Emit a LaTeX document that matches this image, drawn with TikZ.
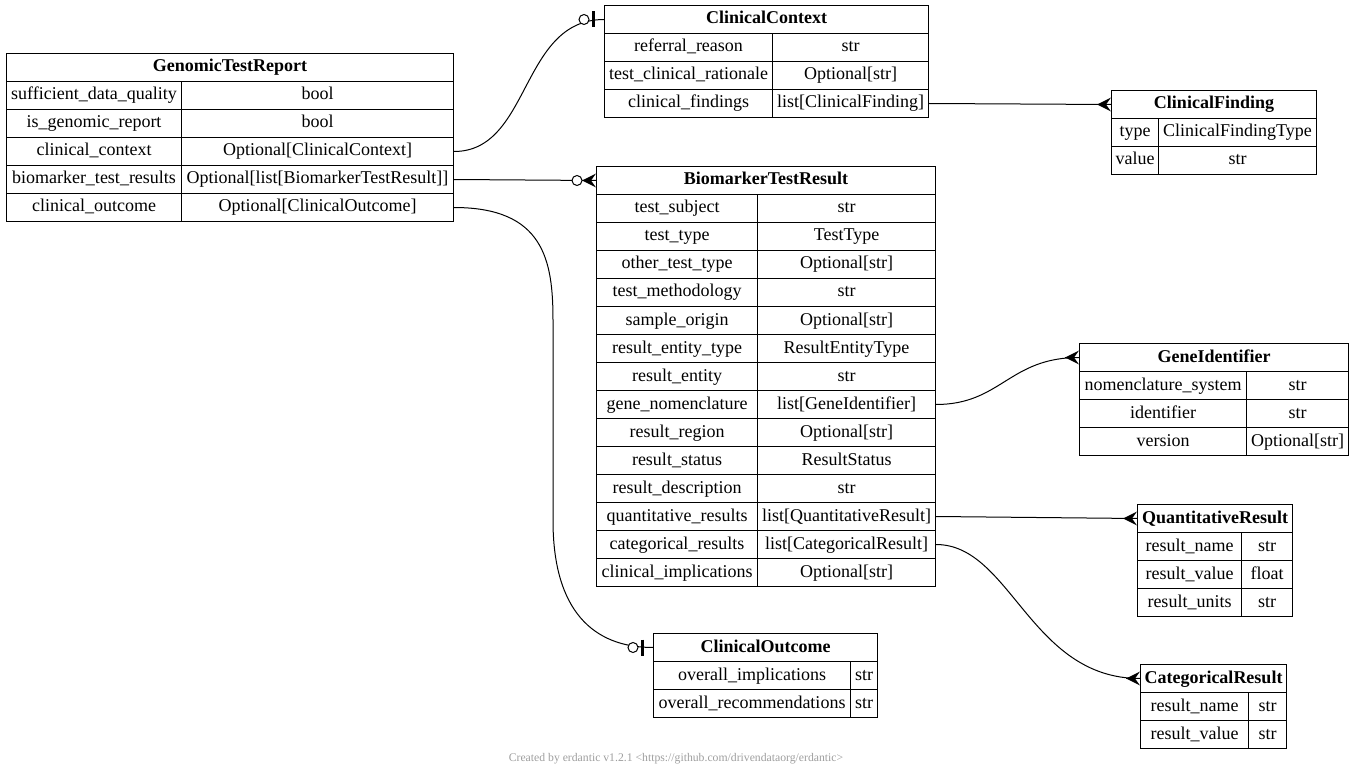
\documentclass[tikz,border=0pt]{standalone}
\usepackage{fontspec}
\setmainfont{Liberation Serif}
\begin{document}
\begin{tikzpicture}[x=1pt, y=-1pt, line width=1pt,
    cell/.style={draw, anchor=north west, inner sep=0pt, minimum height=28,
      text height=13pt, text depth=4pt, font=\fontsize{18}{21}\selectfont},
    head/.style={cell, font=\fontsize{18}{21}\selectfont\bfseries},
    footer/.style={text=black!38, font=\fontsize{11.7}{14}\selectfont},
    crow/.pic={
      \fill (-14,0) -- (0,-7) -- (-5,0) -- (0,7) -- cycle;
      \draw (-14,0) -- (0,0);},
    crowodot/.pic={
      \pic {crow};
      \draw[fill=white] (-19,0) circle[radius=5];},
    teeodot/.pic={
      \draw[line width=3pt] (-11,-8) -- (-11,8);
      \draw[fill=white] (-20,0) circle[radius=5];}]
  \useasboundingbox (0,0) rectangle (1353,778);
  % GenomicTestReport
  \node[head, minimum width=447] (gtr-h) at (6,53) {GenomicTestReport};
  \node[cell, minimum width=175] (gtr-n1) at (6,81) {sufficient\_data\_quality};
  \node[cell, minimum width=272] (gtr-t1) at (181,81) {bool};
  \node[cell, minimum width=175] (gtr-n2) at (6,109) {is\_genomic\_report};
  \node[cell, minimum width=272] (gtr-t2) at (181,109) {bool};
  \node[cell, minimum width=175] (gtr-n3) at (6,137) {clinical\_context};
  \node[cell, minimum width=272] (gtr-t3) at (181,137) {Optional[ClinicalContext]};
  \node[cell, minimum width=175] (gtr-n4) at (6,165) {biomarker\_test\_results};
  \node[cell, minimum width=272] (gtr-t4) at (181,165) {Optional[list[BiomarkerTestResult]]};
  \node[cell, minimum width=175] (gtr-n5) at (6,193) {clinical\_outcome};
  \node[cell, minimum width=272] (gtr-t5) at (181,193) {Optional[ClinicalOutcome]};
  % ClinicalContext
  \node[head, minimum width=324] (cc-h) at (604,5) {ClinicalContext};
  \node[cell, minimum width=168] (cc-n1) at (604,33) {referral\_reason};
  \node[cell, minimum width=156] (cc-t1) at (772,33) {str};
  \node[cell, minimum width=168] (cc-n2) at (604,61) {test\_clinical\_rationale};
  \node[cell, minimum width=156] (cc-t2) at (772,61) {Optional[str]};
  \node[cell, minimum width=168] (cc-n3) at (604,89) {clinical\_findings};
  \node[cell, minimum width=156] (cc-t3) at (772,89) {list[ClinicalFinding]};
  % ClinicalFinding
  \node[head, minimum width=205] (cf-h) at (1111,90) {ClinicalFinding};
  \node[cell, minimum width=47] (cf-n1) at (1111,118) {type};
  \node[cell, minimum width=158] (cf-t1) at (1158,118) {ClinicalFindingType};
  \node[cell, minimum width=47] (cf-n2) at (1111,146) {value};
  \node[cell, minimum width=158] (cf-t2) at (1158,146) {str};
  % BiomarkerTestResult
  \node[head, minimum width=339] (btr-h) at (596,166) {BiomarkerTestResult};
  \node[cell, minimum width=161] (btr-n1) at (596,194) {test\_subject};
  \node[cell, minimum width=178] (btr-t1) at (757,194) {str};
  \node[cell, minimum width=161] (btr-n2) at (596,222) {test\_type};
  \node[cell, minimum width=178] (btr-t2) at (757,222) {TestType};
  \node[cell, minimum width=161] (btr-n3) at (596,250) {other\_test\_type};
  \node[cell, minimum width=178] (btr-t3) at (757,250) {Optional[str]};
  \node[cell, minimum width=161] (btr-n4) at (596,278) {test\_methodology};
  \node[cell, minimum width=178] (btr-t4) at (757,278) {str};
  \node[cell, minimum width=161] (btr-n5) at (596,306) {sample\_origin};
  \node[cell, minimum width=178] (btr-t5) at (757,306) {Optional[str]};
  \node[cell, minimum width=161] (btr-n6) at (596,334) {result\_entity\_type};
  \node[cell, minimum width=178] (btr-t6) at (757,334) {ResultEntityType};
  \node[cell, minimum width=161] (btr-n7) at (596,362) {result\_entity};
  \node[cell, minimum width=178] (btr-t7) at (757,362) {str};
  \node[cell, minimum width=161] (btr-n8) at (596,390) {gene\_nomenclature};
  \node[cell, minimum width=178] (btr-t8) at (757,390) {list[GeneIdentifier]};
  \node[cell, minimum width=161] (btr-n9) at (596,418) {result\_region};
  \node[cell, minimum width=178] (btr-t9) at (757,418) {Optional[str]};
  \node[cell, minimum width=161] (btr-n10) at (596,446) {result\_status};
  \node[cell, minimum width=178] (btr-t10) at (757,446) {ResultStatus};
  \node[cell, minimum width=161] (btr-n11) at (596,474) {result\_description};
  \node[cell, minimum width=178] (btr-t11) at (757,474) {str};
  \node[cell, minimum width=161] (btr-n12) at (596,502) {quantitative\_results};
  \node[cell, minimum width=178] (btr-t12) at (757,502) {list[QuantitativeResult]};
  \node[cell, minimum width=161] (btr-n13) at (596,530) {categorical\_results};
  \node[cell, minimum width=178] (btr-t13) at (757,530) {list[CategoricalResult]};
  \node[cell, minimum width=161] (btr-n14) at (596,558) {clinical\_implications};
  \node[cell, minimum width=178] (btr-t14) at (757,558) {Optional[str]};
  % GeneIdentifier
  \node[head, minimum width=269] (gi-h) at (1079,343) {GeneIdentifier};
  \node[cell, minimum width=167] (gi-n1) at (1079,371) {nomenclature\_system};
  \node[cell, minimum width=102] (gi-t1) at (1246,371) {str};
  \node[cell, minimum width=167] (gi-n2) at (1079,399) {identifier};
  \node[cell, minimum width=102] (gi-t2) at (1246,399) {str};
  \node[cell, minimum width=167] (gi-n3) at (1079,427) {version};
  \node[cell, minimum width=102] (gi-t3) at (1246,427) {Optional[str]};
  % QuantitativeResult
  \node[head, minimum width=155] (qr-h) at (1137,504) {QuantitativeResult};
  \node[cell, minimum width=104] (qr-n1) at (1137,532) {result\_name};
  \node[cell, minimum width=51] (qr-t1) at (1241,532) {str};
  \node[cell, minimum width=104] (qr-n2) at (1137,560) {result\_value};
  \node[cell, minimum width=51] (qr-t2) at (1241,560) {float};
  \node[cell, minimum width=104] (qr-n3) at (1137,588) {result\_units};
  \node[cell, minimum width=51] (qr-t3) at (1241,588) {str};
  % CategoricalResult
  \node[head, minimum width=146] (cr-h) at (1140,664) {CategoricalResult};
  \node[cell, minimum width=108] (cr-n1) at (1140,692) {result\_name};
  \node[cell, minimum width=38] (cr-t1) at (1248,692) {str};
  \node[cell, minimum width=108] (cr-n2) at (1140,720) {result\_value};
  \node[cell, minimum width=38] (cr-t2) at (1248,720) {str};
  % ClinicalOutcome
  \node[head, minimum width=224] (co-h) at (653,633) {ClinicalOutcome};
  \node[cell, minimum width=197] (co-n1) at (653,661) {overall\_implications};
  \node[cell, minimum width=27] (co-t1) at (850,661) {str};
  \node[cell, minimum width=197] (co-n2) at (653,689) {overall\_recommendations};
  \node[cell, minimum width=27] (co-t2) at (850,689) {str};
  \node[footer] (credit) at (676,759) {Created by erdantic v1.2.1 <https://github.com/drivendataorg/erdantic>};
  % relations
  \begin{scope}[-]
    \draw (gtr-t3.east) .. controls +(77,0) and +(-84,0) .. (cc-h.west);
    \draw (gtr-t4.east) -- (btr-h.west);
    \draw (gtr-t5.east) .. controls +(90,0) and +(0,-60) .. ++(99,113)
      -- ++(0,200) .. controls +(0,90) and +(-60,0) .. (co-h.west);
    \draw (cc-t3.east) -- (cf-h.west);
    \draw (btr-t8.east) .. controls +(65,0) and +(-70,0) .. (gi-h.west);
    \draw (btr-t12.east) -- (qr-h.west);
    \draw (btr-t13.east) .. controls +(75,0) and +(-110,0) .. (cr-h.west);
  \end{scope}
  \pic at (cc-h.west) {teeodot};
  \pic at (btr-h.west) {crowodot};
  \pic at (co-h.west) {teeodot};
  \pic at (cf-h.west) {crow};
  \pic at (gi-h.west) {crow};
  \pic at (qr-h.west) {crow};
  \pic at (cr-h.west) {crow};
\end{tikzpicture}
\end{document}
